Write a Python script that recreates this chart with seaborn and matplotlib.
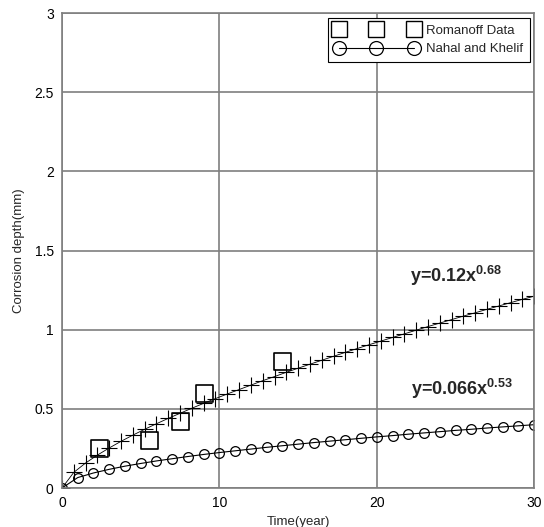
import matplotlib
matplotlib.use("Agg")
import matplotlib.pyplot as plt
import seaborn as sns
from matplotlib.lines import Line2D

# --- data ---
romanoff_t = [2.4, 5.55, 7.55, 9.05, 14.0]
romanoff_d = [0.25, 0.30, 0.42, 0.60, 0.80]

# fitted curve y=0.12x^0.68 (plus markers)
fit_t = [0, 0.75, 1.5, 2.25, 3.0, 3.75, 4.5, 5.25, 6.0, 6.75, 7.5, 8.25, 9.0, 9.75,
         10.5, 11.25, 12.0, 12.75, 13.5, 14.25, 15.0, 15.75, 16.5, 17.25, 18.0,
         18.75, 19.5, 20.25, 21.0, 21.75, 22.5, 23.25, 24.0, 24.75, 25.5, 26.25,
         27.0, 27.75, 28.5, 29.25, 30.0]
fit_d = [0.0, 0.099, 0.158, 0.208, 0.253, 0.295, 0.334, 0.371, 0.406, 0.440, 0.472,
         0.504, 0.535, 0.565, 0.594, 0.622, 0.650, 0.678, 0.704, 0.731, 0.757,
         0.782, 0.807, 0.832, 0.857, 0.881, 0.905, 0.928, 0.951, 0.974, 0.997,
         1.020, 1.042, 1.064, 1.086, 1.107, 1.129, 1.150, 1.171, 1.192, 1.212]

# Nahal and Khelif y=0.066x^0.53
nk_t = [0, 1, 2, 3, 4, 5, 6, 7, 8, 9, 10, 11, 12, 13, 14, 15, 16, 17, 18, 19, 20,
        21, 22, 23, 24, 25, 26, 27, 28, 29, 30]
nk_d = [0.0, 0.066, 0.095, 0.118, 0.138, 0.155, 0.171, 0.185, 0.199, 0.212, 0.224,
        0.235, 0.246, 0.257, 0.267, 0.277, 0.287, 0.296, 0.305, 0.314, 0.323,
        0.331, 0.340, 0.348, 0.356, 0.364, 0.371, 0.379, 0.386, 0.393, 0.400]

x_ticks = [0, 10, 20, 30]
y_ticks = [0, 0.5, 1, 1.5, 2, 2.5, 3]
y_ticklabels = ["0", "0.5", "1", "1.5", "2", "2.5", "3"]

# --- style ---
sns.set_style("white")
plt.rcParams["font.family"] = ["Liberation Sans", "DejaVu Sans"]
plt.rcParams["mathtext.fontset"] = "custom"
plt.rcParams["mathtext.rm"] = "Liberation Sans:bold"
plt.rcParams["mathtext.bf"] = "Liberation Sans:bold"

fig = plt.figure(figsize=(5.44, 5.27), dpi=100)
ax = fig.add_axes([0.114, 0.074, 0.868, 0.901])

sns.lineplot(x=fit_t, y=fit_d, ax=ax, color="black", linewidth=0.6,
             marker="+", markersize=12, markeredgewidth=0.8,
             markeredgecolor="black", sort=False)
sns.lineplot(x=nk_t, y=nk_d, ax=ax, color="black", linewidth=0.8,
             marker="o", markersize=7, markerfacecolor="none",
             markeredgecolor="black", markeredgewidth=0.9, sort=False)
sns.scatterplot(x=romanoff_t, y=romanoff_d, ax=ax, marker="s", s=150,
                facecolor="none", edgecolor="black", linewidth=1.2, zorder=5)

ax.set_xlim(0, 30)
ax.set_ylim(0, 3)
ax.set_xticks(x_ticks)
ax.set_yticks(y_ticks)
ax.set_yticklabels(y_ticklabels)
ax.tick_params(length=0, labelsize=10, pad=6, colors="black")
ax.grid(True, color="#7f7f7f", linewidth=1.2)
ax.set_axisbelow(True)
for s in ax.spines.values():
    s.set_color("#7f7f7f")
    s.set_linewidth(1.2)

ax.set_xlabel("Time(year)", fontsize=9.5, labelpad=4)
ax.set_ylabel("Corrosion depth(mm)", fontsize=9.5, labelpad=7)

ax.text(22.1, 1.30, r"y=0.12x$^{0.68}$", fontsize=13, fontweight="bold")
ax.text(22.2, 0.59, r"y=0.066x$^{0.53}$", fontsize=13, fontweight="bold")

handles = [
    Line2D([], [], linestyle="none", marker="s", markersize=12,
           markerfacecolor="none", markeredgecolor="black", markeredgewidth=1.0),
    Line2D([], [], color="black", linewidth=0.8, marker="o", markersize=10,
           markerfacecolor="none", markeredgecolor="black", markeredgewidth=0.9),
]
leg = ax.legend(handles, ["Romanoff Data", "Nahal and Khelif"], numpoints=3,
                loc="upper right", fontsize=9.5, handlelength=6.3,
                fancybox=False, framealpha=1, edgecolor="black",
                borderaxespad=0.35, labelspacing=0.5, handletextpad=0.6,
                borderpad=0.5)
leg.get_frame().set_linewidth(0.8)

fig.savefig("out.png", dpi=100)
